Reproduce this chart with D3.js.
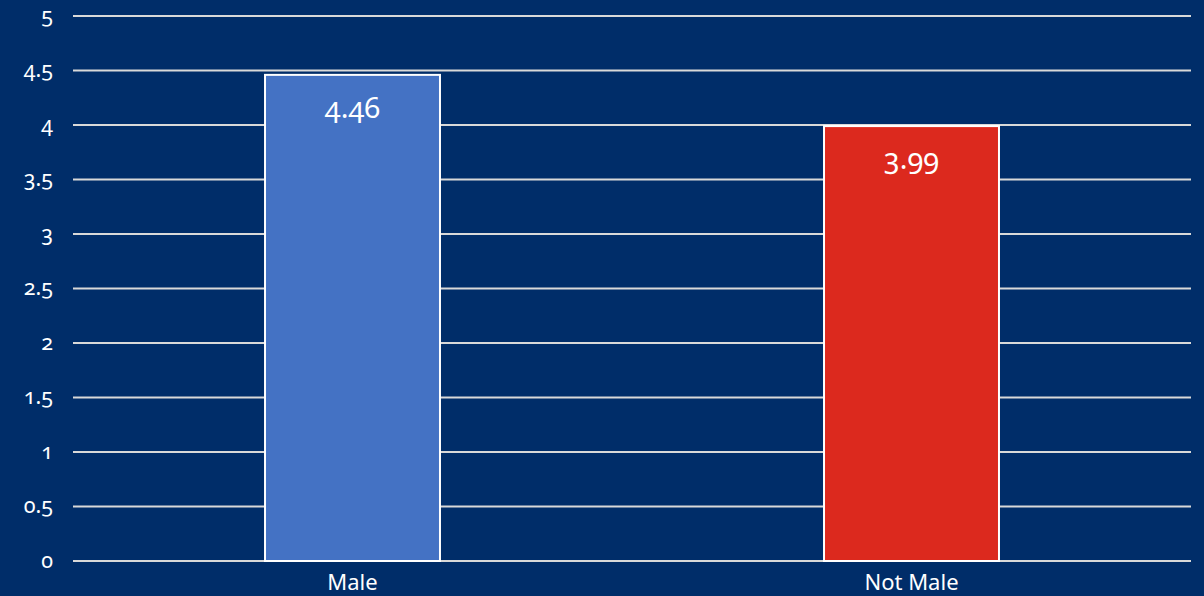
<!DOCTYPE html>
<html>
<head>
<meta charset="utf-8">
<script src="https://cdn.jsdelivr.net/npm/d3@7/dist/d3.min.js"></script>
<style>
  html, body { margin: 0; padding: 0; background: #002d69; }
  svg { display: block; }
  text { font-family: "Noto Sans", "Open Sans", sans-serif; font-variant-numeric: oldstyle-nums; fill: #ffffff; }
</style>
</head>
<body>
<svg id="chart" width="1204" height="596"></svg>
<script>
// Chart data
const categories = ["Male", "Not Male"];
const values = [4.46, 3.99];
const barColors = ["#4472c4", "#dc291e"];
const yTicks = [0, 0.5, 1, 1.5, 2, 2.5, 3, 3.5, 4, 4.5, 5];

const W = 1204, H = 596;
const margin = { top: 16, right: 13, bottom: 35, left: 73 };

const svg = d3.select("#chart");
svg.append("rect").attr("width", W).attr("height", H).attr("fill", "#002d69");

const x = d3.scaleBand()
  .domain(categories)
  .range([margin.left, W - margin.right])
  .padding(0);

const y = d3.scaleLinear()
  .domain([0, 5])
  .range([H - margin.bottom, margin.top]);

// Horizontal gridlines
svg.append("g")
  .selectAll("line")
  .data(yTicks)
  .join("line")
  .attr("x1", margin.left)
  .attr("x2", W - margin.right)
  .attr("y1", d => y(d))
  .attr("y2", d => y(d))
  .attr("stroke", "#d9d9d9")
  .attr("stroke-width", 2);

// Y axis labels
const yAxis = d3.axisLeft(y)
  .tickValues(yTicks)
  .tickFormat(d => String(d))
  .tickSize(0)
  .tickPadding(0);

const gy = svg.append("g")
  .attr("transform", `translate(${margin.left - 20},0)`)
  .call(yAxis);
gy.select(".domain").remove();
gy.selectAll("text")
  .attr("font-size", 21.5)
  .attr("fill", "#ffffff")
  .style("font-family", "\"Noto Sans\", sans-serif")
  .attr("dy", "0.3em");

// Bars
const barFrac = 0.313;
const barW = x.bandwidth() * barFrac;

svg.append("g")
  .selectAll("rect")
  .data(categories)
  .join("rect")
  .attr("x", d => x(d) + (x.bandwidth() - barW) / 2)
  .attr("y", (d, i) => y(values[i]))
  .attr("width", barW)
  .attr("height", (d, i) => y(0) - y(values[i]))
  .attr("fill", (d, i) => barColors[i])
  .attr("stroke", "#ffffff")
  .attr("stroke-width", 2);

// Value labels inside the bar tops
svg.append("g")
  .selectAll("text")
  .data(categories)
  .join("text")
  .attr("x", d => x(d) + x.bandwidth() / 2)
  .attr("y", (d, i) => y(values[i]) + 43)
  .attr("text-anchor", "middle")
  .attr("font-size", 29)
  .text((d, i) => values[i].toFixed(2));

// Category axis
const xAxis = d3.axisBottom(x).tickSize(0).tickPadding(0);
const gx = svg.append("g")
  .attr("transform", `translate(0,${y(0)})`)
  .call(xAxis);
gx.select(".domain").remove();
gx.selectAll("text")
  .attr("font-size", 22)
  .attr("fill", "#ffffff")
  .style("font-family", "\"Noto Sans\", sans-serif")
  .attr("dy", 0)
  .attr("y", 29);
</script>
</body>
</html>
